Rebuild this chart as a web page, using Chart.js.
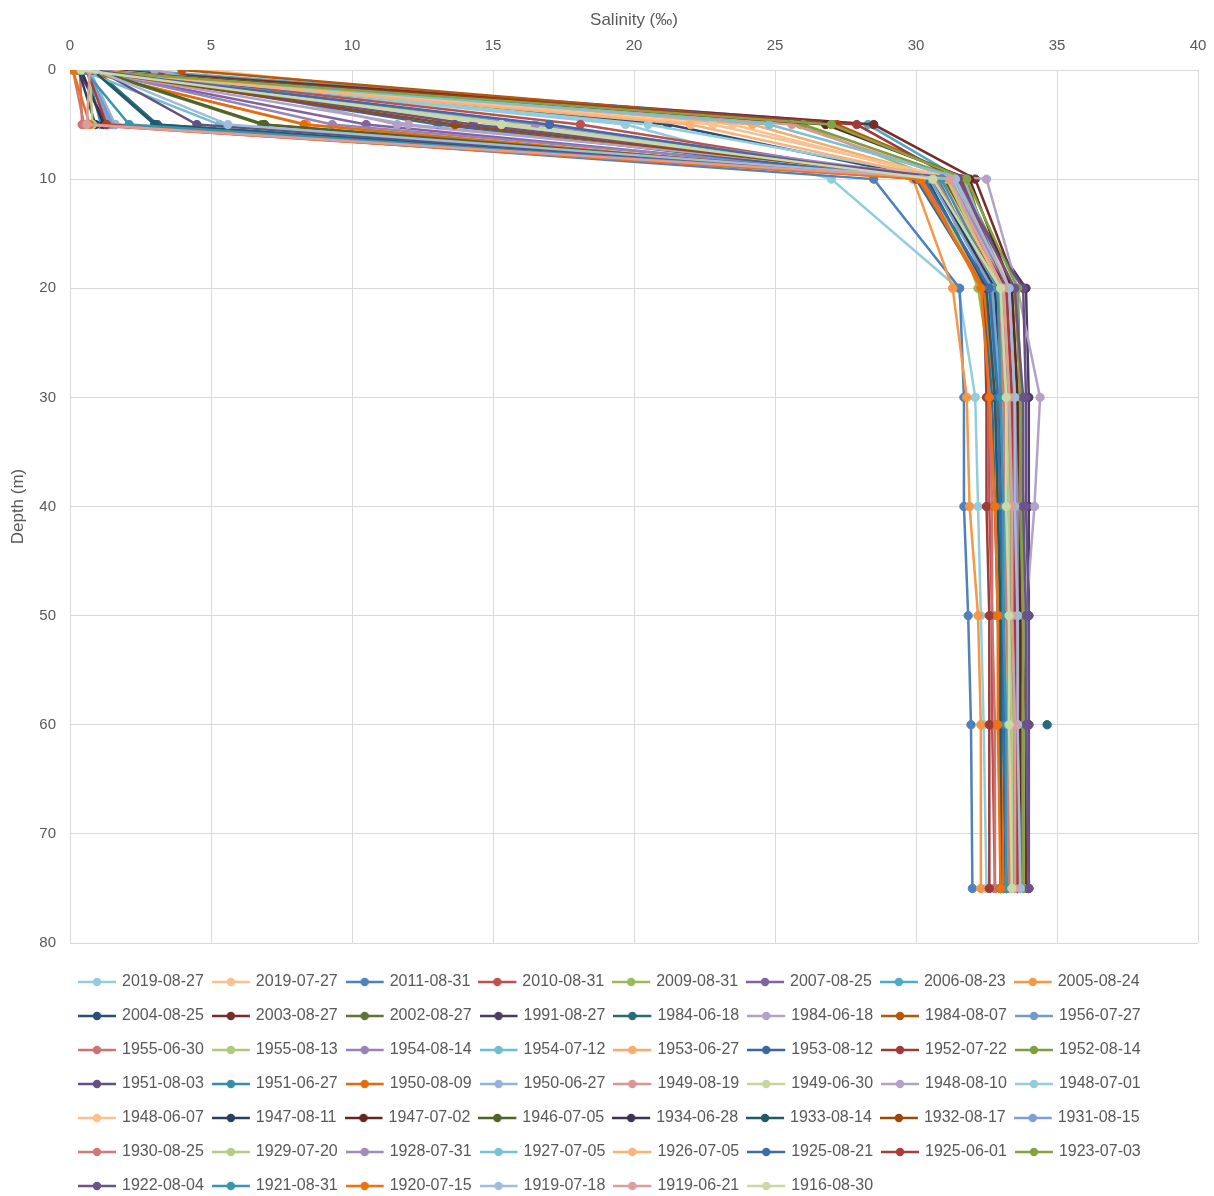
<!DOCTYPE html>
<html>
<head>
<meta charset="utf-8">
<title>Salinity profiles</title>
<script src="https://cdn.jsdelivr.net/npm/chart.js@4/dist/chart.umd.min.js"></script>
<style>
  html, body { margin: 0; padding: 0; background: #ffffff; }
  #wrap { width: 1214px; height: 1196px; }
</style>
</head>
<body>
<div id="wrap"><canvas id="chart" width="1214" height="1196"></canvas></div>
<script>
// Sampling depths (m) shared by every profile
const depths = [0, 5, 10, 20, 30, 40, 50, 60, 75];

// Salinity (‰) per survey date, one value per depth (null = not sampled)
const sal_2019_08_27  = [0.4, 19.7, 27.0, 31.5, 32.1, 32.2, 32.3, 32.4, 32.5];
const sal_2019_07_27  = [4.8, 23.5, 31.0, 32.6, 33.0, 33.1, 33.2, 33.3, 33.4];
const sal_2011_08_31  = [0.6, 1.6, 28.5, 31.55, 31.7, 31.7, 31.85, 31.95, 32.0];
const sal_2010_08_31  = [0.9, 18.1, 30.2, 32.4, 32.6, 32.6, 32.7, 32.7, 32.8];
const sal_2009_08_31  = [0.7, 25.9, 30.8, 32.2, 32.8, 33.0, 33.1, 33.2, 33.3];
const sal_2007_08_25  = [0.5, 10.5, 30.5, 32.8, 33.1, 33.2, 33.3, 33.4, 33.4];
const sal_2006_08_23  = [2.3, 28.3, 31.6, 32.9, 33.0, 33.1, 33.2, 33.3, 33.3];
const sal_2005_08_24  = [0.3, 8.4, 29.9, 31.3, 31.8, 31.9, 32.2, 32.3, 32.3];
const sal_2004_08_25  = [0.2, 21.2, 30.6, 32.7, 32.9, 33.0, 33.0, 33.1, 33.1];
const sal_2003_08_27  = [1.4, 28.5, 32.1, 33.6, 33.7, 33.8, 33.8, 33.9, 33.9];
const sal_2002_08_27  = [0.8, 6.8, 30.9, 33.4, 33.6, 33.7, 33.7, 33.8, 33.8];
const sal_1991_08_27  = [0.3, 1.3, 31.2, 33.9, 34.0, 34.0, 34.0, 34.0, 34.0];
const sal_1984_06_18a = [0.9, 3.1, 31.5, 33.2, 33.4, 33.5, null, 34.65, null];
const sal_1984_06_18b = [3.0, 11.6, 32.5, 33.6, 34.4, 34.2, 33.9, 33.7, 33.8];
const sal_1984_08_07  = [3.97, 27.2, 31.8, 33.0, 33.3, 33.4, 33.5, 33.5, 33.6];
const sal_1956_07_27  = [0.6, 1.5, 31.0, 33.0, 33.2, 33.3, 33.4, 33.4, 33.5];
const sal_1955_06_30  = [0.35, 0.43, 30.3, 32.5, 32.6, 32.7, 32.7, 32.8, 32.8];
const sal_1955_08_13  = [0.5, 15.2, 30.4, 32.3, 32.9, 33.0, 33.1, 33.2, 33.2];
const sal_1954_08_14  = [0.7, 9.3, 31.3, 33.1, 33.3, 33.4, 33.5, 33.6, 33.6];
const sal_1954_07_12  = [0.4, 5.3, 30.7, 32.6, 32.8, 32.9, 33.0, 33.1, 33.1];
const sal_1953_06_27  = [0.6, 24.2, 31.1, 32.9, 33.1, 33.2, 33.3, 33.4, 33.5];
const sal_1953_08_12  = [0.8, 13.05, 30.0, 32.4, 32.7, 32.8, 32.9, 33.0, 33.0];
const sal_1952_07_22  = [0.5, 27.9, 31.4, 32.4, 32.5, 32.5, 32.6, 32.6, 32.6];
const sal_1952_08_14  = [0.9, 26.0, 31.6, 33.5, 33.7, 33.7, 33.8, 33.8, 33.8];
const sal_1951_08_03  = [1.0, 4.5, 31.3, 33.8, 33.9, 33.9, 34.0, 34.0, 34.0];
const sal_1951_06_27  = [0.6, 1.1, 30.8, 32.7, 32.9, 33.0, 33.1, 33.1, 33.2];
const sal_1950_08_09  = [0.4, 8.3, 30.1, 32.4, 32.8, 32.9, 33.0, 33.0, 33.1];
const sal_1950_06_27  = [0.7, 1.6, 31.2, 33.0, 33.2, 33.3, 33.3, 33.4, 33.4];
const sal_1949_08_19  = [0.2, 25.6, 31.4, 33.2, 33.4, 33.5, 33.5, 33.6, 33.6];
const sal_1949_06_30  = [0.8, 15.7, 31.0, 32.8, 33.0, 33.1, 33.2, 33.2, 33.3];
const sal_1948_08_10  = [0.5, 12.0, 31.6, 33.3, 33.5, 33.6, 33.6, 33.7, 33.7];
const sal_1948_07_01  = [0.7, 20.5, 31.3, 33.1, 33.2, 33.3, 33.4, 33.4, 33.5];
const sal_1948_06_07  = [1.1, 22.8, 31.5, 33.4, 33.5, 33.6, 33.6, 33.7, 33.7];
const sal_1947_08_11  = [0.3, 0.9, 30.6, 32.8, 33.0, 33.0, 33.1, 33.1, 33.2];
const sal_1947_07_02  = [0.6, 26.8, 31.9, 33.4, 33.6, 33.6, 33.7, 33.7, 33.7];
const sal_1946_07_05  = [0.9, 6.9, 31.0, 33.1, 33.3, 33.4, 33.4, 33.5, 33.5];
const sal_1934_06_28  = [0.4, 1.2, 30.9, 33.2, 33.4, 33.5, 33.5, 33.6, 33.6];
const sal_1933_08_14  = [0.8, 3.0, 30.4, 32.5, 32.8, 32.9, 33.0, 33.0, 33.0];
const sal_1932_08_17  = [0.5, 13.65, 31.0, 33.0, 33.2, 33.3, 33.3, 33.4, 33.4];
const sal_1931_08_15  = [0.6, 1.4, 30.5, 32.7, 33.0, 33.1, 33.1, 33.2, 33.2];
const sal_1930_08_25  = [0.1, 0.5, 30.7, 32.9, 33.1, 33.2, 33.2, 33.3, 33.3];
const sal_1929_07_20  = [0.7, 0.8, 31.1, 33.0, 33.2, 33.3, 33.3, 33.4, 33.4];
const sal_1928_07_31  = [0.9, 16.5, 31.2, 33.3, 33.5, 33.6, 33.6, 33.6, 33.7];
const sal_1927_07_05  = [0.5, 24.8, 31.7, 33.2, 33.3, 33.4, 33.5, 33.5, 33.6];
const sal_1926_07_05  = [0.3, 22.0, 30.9, 33.1, 33.4, 33.5, 33.5, 33.6, 33.6];
const sal_1925_08_21  = [0.4, 17.0, 30.3, 32.6, 32.9, 33.0, 33.1, 33.1, 33.2];
const sal_1925_06_01  = [0.6, 1.3, 31.6, 33.2, 33.4, 33.5, 33.5, 33.6, 33.6];
const sal_1923_07_03  = [0.2, 27.0, 31.8, 33.6, 33.7, 33.8, 33.8, 33.8, 33.8];
const sal_1922_08_04  = [0.8, 14.3, 31.5, 33.5, 33.8, 33.8, 33.9, 33.9, 34.0];
const sal_1921_08_31  = [0.5, 2.1, 30.9, 32.9, 33.0, 33.1, 33.1, 33.2, 33.2];
const sal_1920_07_15  = [0.1, 0.7, 30.2, 32.3, 32.6, 32.8, 32.9, 32.9, 33.0];
const sal_1919_07_18  = [0.9, 5.6, 31.4, 33.3, 33.5, 33.5, 33.6, 33.6, 33.7];
const sal_1919_06_21  = [0.7, 0.6, 31.2, 33.1, 33.3, 33.4, 33.4, 33.5, 33.5];
const sal_1916_08_30  = [0.4, 15.3, 30.6, 33.0, 33.2, 33.2, 33.3, 33.3, 33.4];

// Survey dates as shown in the legend, in drawing order
const surveyDates = [
  '2019-08-27', '2019-07-27', '2011-08-31', '2010-08-31', '2009-08-31', '2007-08-25',
  '2006-08-23', '2005-08-24', '2004-08-25', '2003-08-27', '2002-08-27', '1991-08-27',
  '1984-06-18', '1984-06-18', '1984-08-07', '1956-07-27', '1955-06-30', '1955-08-13',
  '1954-08-14', '1954-07-12', '1953-06-27', '1953-08-12', '1952-07-22', '1952-08-14',
  '1951-08-03', '1951-06-27', '1950-08-09', '1950-06-27', '1949-08-19', '1949-06-30',
  '1948-08-10', '1948-07-01', '1948-06-07', '1947-08-11', '1947-07-02', '1946-07-05',
  '1934-06-28', '1933-08-14', '1932-08-17', '1931-08-15', '1930-08-25', '1929-07-20',
  '1928-07-31', '1927-07-05', '1926-07-05', '1925-08-21', '1925-06-01', '1923-07-03',
  '1922-08-04', '1921-08-31', '1920-07-15', '1919-07-18', '1919-06-21', '1916-08-30'
];

const surveyValues = [
  sal_2019_08_27, sal_2019_07_27, sal_2011_08_31, sal_2010_08_31, sal_2009_08_31, sal_2007_08_25,
  sal_2006_08_23, sal_2005_08_24, sal_2004_08_25, sal_2003_08_27, sal_2002_08_27, sal_1991_08_27,
  sal_1984_06_18a, sal_1984_06_18b, sal_1984_08_07, sal_1956_07_27, sal_1955_06_30, sal_1955_08_13,
  sal_1954_08_14, sal_1954_07_12, sal_1953_06_27, sal_1953_08_12, sal_1952_07_22, sal_1952_08_14,
  sal_1951_08_03, sal_1951_06_27, sal_1950_08_09, sal_1950_06_27, sal_1949_08_19, sal_1949_06_30,
  sal_1948_08_10, sal_1948_07_01, sal_1948_06_07, sal_1947_08_11, sal_1947_07_02, sal_1946_07_05,
  sal_1934_06_28, sal_1933_08_14, sal_1932_08_17, sal_1931_08_15, sal_1930_08_25, sal_1929_07_20,
  sal_1928_07_31, sal_1927_07_05, sal_1926_07_05, sal_1925_08_21, sal_1925_06_01, sal_1923_07_03,
  sal_1922_08_04, sal_1921_08_31, sal_1920_07_15, sal_1919_07_18, sal_1919_06_21, sal_1916_08_30
];

const surveyColors = [
  '#93CDDD', '#FAC090', '#4F81BD', '#C0504D', '#9BBB59', '#8064A2',
  '#4BACC6', '#F79646', '#2C4D75', '#772C2A', '#5F7530', '#4D3B62',
  '#276A7C', '#B3A2C7', '#B65708', '#729ACA', '#CD7371', '#AFC97A',
  '#9983B5', '#6FBDD1', '#F9AB6B', '#3A679C', '#9E3B38', '#7E9D40',
  '#664F82', '#358EA6', '#E46C0A', '#95B3D7', '#D99694', '#C3D69B',
  '#B3A2C7', '#93CDDD', '#FAC090', '#254061', '#632523', '#4F6228',
  '#3F3151', '#215968', '#984807', '#7F9FCF', '#D07A78', '#B4CC84',
  '#A08CBA', '#78C2D5', '#FAB276', '#3D6DA6', '#A63F3C', '#84A443',
  '#6B5288', '#3795AE', '#EF7210', '#A0BCDD', '#DC9E9C', '#C9DAA6'
];

const FONT = "'Liberation Sans', 'DejaVu Sans', sans-serif";
const TEXT = '#595959';
const GRID = '#D9D9D9';

// Legend swatch: short line with a round marker in the series colour
function makeSwatch(color) {
  const c = document.createElement('canvas');
  c.width = 46; c.height = 12;
  const g = c.getContext('2d');
  g.strokeStyle = color;
  g.lineWidth = 2.5;
  g.beginPath(); g.moveTo(0, 6); g.lineTo(38, 6); g.stroke();
  g.fillStyle = color;
  g.beginPath(); g.arc(19, 6, 4.2, 0, Math.PI * 2); g.fill();
  return c;
}
const swatches = surveyColors.map(makeSwatch);

const datasets = surveyDates.map((label, i) => ({
  label,
  data: depths.map((d, j) => ({ x: surveyValues[i][j], y: d })),
  borderColor: surveyColors[i],
  backgroundColor: surveyColors[i],
  pointBackgroundColor: surveyColors[i],
  pointBorderColor: surveyColors[i],
  borderWidth: 2.5,
  pointRadius: 4.2,
  pointBorderWidth: 1,
  showLine: true,
  spanGaps: false,
  order: -i
}));

new Chart(document.getElementById('chart'), {
  type: 'scatter',
  data: { datasets },
  options: {
    responsive: false,
    devicePixelRatio: 1,
    animation: false,
    layout: { padding: { left: 0, top: 0, right: 16, bottom: -8 } },
    scales: {
      x: {
        type: 'linear',
        position: 'top',
        min: 0, max: 40,
        ticks: { stepSize: 5, padding: 15, color: TEXT, font: { family: FONT, size: 15 } },
        grid: { color: GRID, lineWidth: 1, drawTicks: false },
        border: { color: GRID, width: 1 },
        title: { display: true, text: 'Salinity (‰)', color: TEXT, font: { family: FONT, size: 17 }, padding: { top: 10, bottom: 0 } },
        afterFit(scale) { scale.height = 70; scale.paddingLeft = 0; scale.paddingRight = 0; }
      },
      y: {
        type: 'linear',
        position: 'left',
        reverse: true,
        min: 0, max: 80,
        ticks: { stepSize: 10, padding: 14, color: TEXT, font: { family: FONT, size: 15 } },
        grid: { color: GRID, lineWidth: 1, drawTicks: false },
        border: { color: GRID, width: 1 },
        title: { display: true, text: 'Depth (m)', color: TEXT, font: { family: FONT, size: 17 }, padding: { top: 8, bottom: 0 } },
        afterFit(scale) { scale.width = 70; }
      },
      // keeps a little room between the plot and the legend
      gap: {
        type: 'linear',
        position: 'bottom',
        display: true,
        ticks: { display: false },
        grid: { display: false, drawTicks: false },
        border: { display: false },
        afterFit(scale) { scale.height = 13; scale.paddingLeft = 0; scale.paddingRight = 0; }
      }
    },
    plugins: {
      tooltip: { enabled: false },
      legend: {
        position: 'bottom',
        align: 'start',
        fullSize: false,
        labels: {
          usePointStyle: true,
          pointStyleWidth: 26,
          padding: 18,
          color: TEXT,
          font: { family: FONT, size: 16 },
          sort: (a, b) => a.datasetIndex - b.datasetIndex,
          generateLabels(chart) {
            const items = Chart.defaults.plugins.legend.labels.generateLabels(chart);
            items.forEach(it => { it.pointStyle = swatches[it.datasetIndex]; });
            return items;
          }
        }
      }
    }
  }
});
</script>
</body>
</html>
